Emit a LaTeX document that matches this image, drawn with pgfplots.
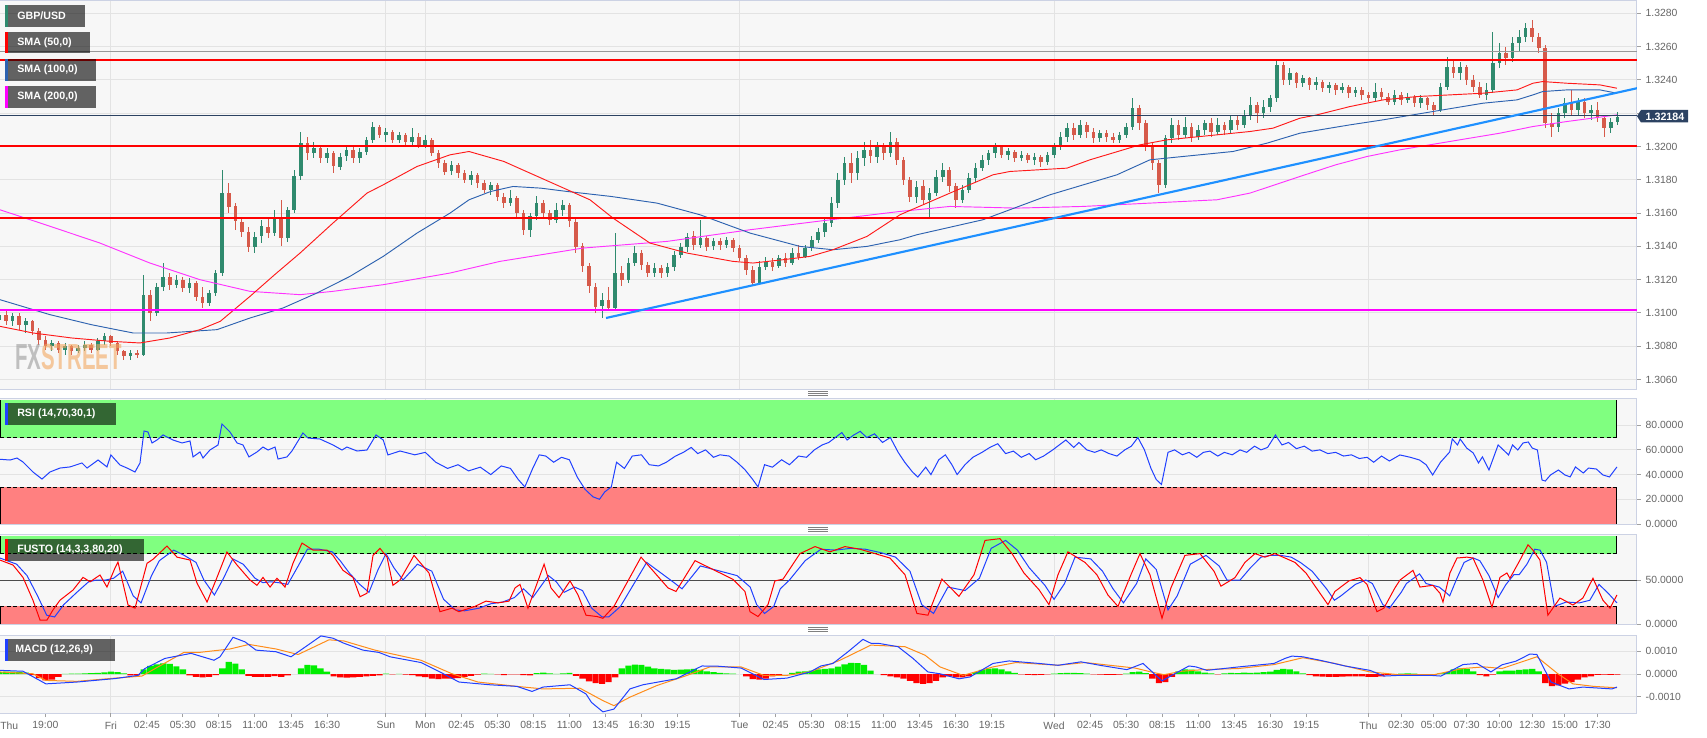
\documentclass[border=0pt]{standalone}
\usepackage{fontspec}
\setmainfont{Liberation Sans}
\usepackage{graphicx}
\usepackage{pgfplots}
\usepackage{pgfplotstable}
\pgfplotsset{compat=1.18}

\definecolor{bgc}{HTML}{F7F7F7}
\definecolor{framec}{HTML}{CCD2E4}
\definecolor{gridc}{HTML}{E3E3E3}
\definecolor{tickc}{HTML}{A0A0A0}
\definecolor{labc}{HTML}{666666}
\definecolor{cup}{HTML}{2F8A6E}
\definecolor{cdn}{HTML}{D65A4A}
\definecolor{smared}{HTML}{FF1A1A}
\definecolor{smablue}{HTML}{2D62B0}
\definecolor{smamag}{HTML}{FF33FF}
\definecolor{lvlred}{HTML}{FF0000}
\definecolor{lvlmag}{HTML}{FF00FF}
\definecolor{trend}{HTML}{1E90FF}
\definecolor{navy}{HTML}{2C4262}
\definecolor{zgreen}{HTML}{80FF80}
\definecolor{zred}{HTML}{FF8080}
\definecolor{indblue}{HTML}{2040FF}
\definecolor{indred}{HTML}{FF0000}
\definecolor{sigor}{HTML}{FF8C1A}
\definecolor{hgreen}{HTML}{00EE00}
\definecolor{hred}{HTML}{FF0000}
\definecolor{wmgray}{HTML}{9A9A9A}
\definecolor{wmorange}{HTML}{F2A860}

\newcommand{\tfont}{\fontsize{7.8}{9}\selectfont}
\newcommand{\bfont}{\fontsize{8}{9.6}\selectfont\bfseries}

% 30 minute candles: time (h, weekend removed), open, high, low, close
\pgfplotstableread{
t o h l c
15.5 1.3096 1.3101 1.3094 1.3099
16.0 1.3099 1.3102 1.3093 1.3095
16.5 1.3095 1.3100 1.3092 1.3098
17.0 1.3098 1.3100 1.3090 1.3093
17.5 1.3093 1.3097 1.3088 1.3095
18.0 1.3095 1.3096 1.3087 1.3089
18.5 1.3089 1.3091 1.3081 1.3084
19.0 1.3084 1.3086 1.3078 1.3080
19.5 1.3080 1.3084 1.3077 1.3082
20.0 1.3082 1.3083 1.3076 1.3078
20.5 1.3078 1.3082 1.3075 1.3080
21.0 1.3080 1.3081 1.3075 1.3077
21.5 1.3077 1.3081 1.3076 1.3079
22.0 1.3079 1.3083 1.3077 1.3081
22.5 1.3081 1.3082 1.3076 1.3078
23.0 1.3078 1.3085 1.3077 1.3083
23.5 1.3083 1.3088 1.3081 1.3086
24.0 1.3086 1.3087 1.3080 1.3082
24.5 1.3082 1.3083 1.3075 1.3077
25.0 1.3077 1.3078 1.3072 1.3074
25.5 1.3074 1.3078 1.3072 1.3076
26.0 1.3076 1.3078 1.3073 1.3075
26.5 1.3075 1.3123 1.3074 1.3111
27.0 1.3111 1.3114 1.3095 1.3100
27.5 1.3100 1.3118 1.3098 1.3116
28.0 1.3116 1.3130 1.3113 1.3122
28.5 1.3122 1.3124 1.3114 1.3117
29.0 1.3117 1.3123 1.3115 1.3120
29.5 1.3120 1.3122 1.3113 1.3115
30.0 1.3115 1.3121 1.3112 1.3118
30.5 1.3118 1.3119 1.3107 1.3110
31.0 1.3110 1.3116 1.3103 1.3106
31.5 1.3106 1.3114 1.3104 1.3112
32.0 1.3112 1.3126 1.3110 1.3124
32.5 1.3124 1.3186 1.3122 1.3172
33.0 1.3172 1.3178 1.3160 1.3164
33.5 1.3164 1.3166 1.3150 1.3155
34.0 1.3155 1.3158 1.3146 1.3149
34.5 1.3149 1.3152 1.3137 1.3140
35.0 1.3140 1.3149 1.3136 1.3146
35.5 1.3146 1.3156 1.3142 1.3152
36.0 1.3152 1.3158 1.3145 1.3148
36.5 1.3148 1.3162 1.3146 1.3158
37.0 1.3158 1.3168 1.3140 1.3145
37.5 1.3145 1.3164 1.3143 1.3162
38.0 1.3162 1.3186 1.3160 1.3182
38.5 1.3182 1.3209 1.3180 1.3202
39.0 1.3202 1.3206 1.3192 1.3196
39.5 1.3196 1.3203 1.3193 1.3199
40.0 1.3199 1.3201 1.3190 1.3193
40.5 1.3193 1.3199 1.3190 1.3196
41.0 1.3196 1.3197 1.3184 1.3188
41.5 1.3188 1.3196 1.3186 1.3194
42.0 1.3194 1.3201 1.3191 1.3198
42.5 1.3198 1.3200 1.3190 1.3193
43.0 1.3193 1.3199 1.3190 1.3197
43.5 1.3197 1.3206 1.3195 1.3204
44.0 1.3204 1.3215 1.3202 1.3212
44.5 1.3212 1.3213 1.3205 1.3207
45.0 1.3207 1.3211 1.3203 1.3209
45.5 1.3209 1.3210 1.3202 1.3204
46.0 1.3204 1.3209 1.3202 1.3207
46.5 1.3207 1.3208 1.3201 1.3203
47.0 1.3203 1.3211 1.3201 1.3206
47.5 1.3206 1.3208 1.3199 1.3201
48.0 1.3201 1.3207 1.3199 1.3204
48.5 1.3204 1.3205 1.3194 1.3196
49.0 1.3196 1.3198 1.3187 1.3190
49.5 1.3190 1.3192 1.3183 1.3185
50.0 1.3185 1.3191 1.3183 1.3189
50.5 1.3189 1.3190 1.3181 1.3184
51.0 1.3184 1.3186 1.3178 1.3180
51.5 1.3180 1.3185 1.3177 1.3183
52.0 1.3183 1.3184 1.3175 1.3178
52.5 1.3178 1.3180 1.3172 1.3174
53.0 1.3174 1.3179 1.3171 1.3177
53.5 1.3177 1.3178 1.3167 1.3170
54.0 1.3170 1.3172 1.3163 1.3166
54.5 1.3166 1.3174 1.3164 1.3169
55.0 1.3169 1.3170 1.3157 1.3160
55.5 1.3160 1.3162 1.3147 1.3150
56.0 1.3150 1.3160 1.3146 1.3158
56.5 1.3158 1.3170 1.3156 1.3166
57.0 1.3166 1.3168 1.3157 1.3160
57.5 1.3160 1.3162 1.3153 1.3156
58.0 1.3156 1.3166 1.3154 1.3162
58.5 1.3162 1.3168 1.3158 1.3165
59.0 1.3165 1.3166 1.3152 1.3155
59.5 1.3155 1.3157 1.3136 1.3140
60.0 1.3140 1.3142 1.3125 1.3128
60.5 1.3128 1.3130 1.3112 1.3116
61.0 1.3116 1.3118 1.3100 1.3104
61.5 1.3104 1.3112 1.3097 1.3108
62.0 1.3108 1.3116 1.3101 1.3103
62.5 1.3103 1.3148 1.3102 1.3124
63.0 1.3124 1.3128 1.3116 1.3120
63.5 1.3120 1.3133 1.3118 1.3130
64.0 1.3130 1.3140 1.3128 1.3136
64.5 1.3136 1.3138 1.3126 1.3129
65.0 1.3129 1.3131 1.3122 1.3124
65.5 1.3124 1.3130 1.3122 1.3127
66.0 1.3127 1.3129 1.3121 1.3124
66.5 1.3124 1.3130 1.3122 1.3128
67.0 1.3128 1.3137 1.3125 1.3135
67.5 1.3135 1.3142 1.3133 1.3140
68.0 1.3140 1.3148 1.3137 1.3146
68.5 1.3146 1.3149 1.3138 1.3141
69.0 1.3141 1.3156 1.3139 1.3145
69.5 1.3145 1.3146 1.3137 1.3140
70.0 1.3140 1.3145 1.3138 1.3143
70.5 1.3143 1.3145 1.3138 1.3141
71.0 1.3141 1.3146 1.3139 1.3144
71.5 1.3144 1.3145 1.3137 1.3139
72.0 1.3139 1.3141 1.3131 1.3133
72.5 1.3133 1.3135 1.3123 1.3126
73.0 1.3126 1.3128 1.3116 1.3118
73.5 1.3118 1.3131 1.3117 1.3128
74.0 1.3128 1.3134 1.3126 1.3131
74.5 1.3131 1.3133 1.3125 1.3128
75.0 1.3128 1.3135 1.3127 1.3133
75.5 1.3133 1.3136 1.3128 1.3130
76.0 1.3130 1.3139 1.3129 1.3136
76.5 1.3136 1.3141 1.3132 1.3134
77.0 1.3134 1.3141 1.3133 1.3139
77.5 1.3139 1.3146 1.3137 1.3144
78.0 1.3144 1.3151 1.3142 1.3149
78.5 1.3149 1.3157 1.3146 1.3154
79.0 1.3154 1.3170 1.3152 1.3166
79.5 1.3166 1.3184 1.3163 1.3180
80.0 1.3180 1.3194 1.3177 1.3190
80.5 1.3190 1.3196 1.3178 1.3184
81.0 1.3184 1.3197 1.3180 1.3193
81.5 1.3193 1.3203 1.3188 1.3198
82.0 1.3198 1.3204 1.3190 1.3194
82.5 1.3194 1.3203 1.3190 1.3200
83.0 1.3200 1.3202 1.3192 1.3196
83.5 1.3196 1.3209 1.3194 1.3203
84.0 1.3203 1.3205 1.3189 1.3192
84.5 1.3192 1.3194 1.3177 1.3180
85.0 1.3180 1.3182 1.3167 1.3170
85.5 1.3170 1.3179 1.3166 1.3176
86.0 1.3176 1.3180 1.3165 1.3168
86.5 1.3168 1.3175 1.3158 1.3172
87.0 1.3172 1.3186 1.3170 1.3182
87.5 1.3182 1.3190 1.3179 1.3186
88.0 1.3186 1.3188 1.3173 1.3176
88.5 1.3176 1.3178 1.3163 1.3168
89.0 1.3168 1.3177 1.3166 1.3174
89.5 1.3174 1.3184 1.3172 1.3181
90.0 1.3181 1.3190 1.3179 1.3187
90.5 1.3187 1.3195 1.3185 1.3192
91.0 1.3192 1.3198 1.3189 1.3196
91.5 1.3196 1.3202 1.3193 1.3200
92.0 1.3200 1.3201 1.3193 1.3195
92.5 1.3195 1.3199 1.3192 1.3197
93.0 1.3197 1.3198 1.3191 1.3193
93.5 1.3193 1.3197 1.3191 1.3195
94.0 1.3195 1.3196 1.3190 1.3192
94.5 1.3192 1.3196 1.3189 1.3194
95.0 1.3194 1.3195 1.3188 1.3191
95.5 1.3191 1.3197 1.3189 1.3195
96.0 1.3195 1.3202 1.3193 1.3200
96.5 1.3200 1.3209 1.3198 1.3206
97.0 1.3206 1.3214 1.3203 1.3211
97.5 1.3211 1.3214 1.3204 1.3207
98.0 1.3207 1.3216 1.3205 1.3213
98.5 1.3213 1.3215 1.3205 1.3209
99.0 1.3209 1.3211 1.3202 1.3205
99.5 1.3205 1.3210 1.3203 1.3208
100.0 1.3208 1.3210 1.3203 1.3206
100.5 1.3206 1.3208 1.3202 1.3204
101.0 1.3204 1.3209 1.3202 1.3207
101.5 1.3207 1.3214 1.3205 1.3212
102.0 1.3212 1.3229 1.3210 1.3223
102.5 1.3223 1.3225 1.3210 1.3214
103.0 1.3214 1.3216 1.3197 1.3200
103.5 1.3200 1.3202 1.3186 1.3190
104.0 1.3190 1.3192 1.3172 1.3177
104.5 1.3177 1.3207 1.3175 1.3205
105.0 1.3205 1.3217 1.3202 1.3213
105.5 1.3213 1.3216 1.3204 1.3207
106.0 1.3207 1.3218 1.3205 1.3212
106.5 1.3212 1.3214 1.3203 1.3206
107.0 1.3206 1.3213 1.3204 1.3210
107.5 1.3210 1.3216 1.3207 1.3214
108.0 1.3214 1.3217 1.3206 1.3209
108.5 1.3209 1.3217 1.3207 1.3213
109.0 1.3213 1.3215 1.3207 1.3210
109.5 1.3210 1.3219 1.3208 1.3216
110.0 1.3216 1.3219 1.3210 1.3213
110.5 1.3213 1.3222 1.3211 1.3219
111.0 1.3219 1.3230 1.3216 1.3225
111.5 1.3225 1.3227 1.3214 1.3220
112.0 1.3220 1.3228 1.3217 1.3224
112.5 1.3224 1.3231 1.3221 1.3229
113.0 1.3229 1.3252 1.3227 1.3249
113.5 1.3249 1.3251 1.3237 1.3240
114.0 1.3240 1.3247 1.3237 1.3244
114.5 1.3244 1.3245 1.3235 1.3238
115.0 1.3238 1.3243 1.3236 1.3241
115.5 1.3241 1.3242 1.3234 1.3237
116.0 1.3237 1.3242 1.3234 1.3239
116.5 1.3239 1.3240 1.3233 1.3235
117.0 1.3235 1.3239 1.3232 1.3237
117.5 1.3237 1.3238 1.3231 1.3234
118.0 1.3234 1.3238 1.3232 1.3236
118.5 1.3236 1.3237 1.3229 1.3232
119.0 1.3232 1.3236 1.3230 1.3234
119.5 1.3234 1.3236 1.3228 1.3231
120.0 1.3231 1.3233 1.3227 1.3229
120.5 1.3229 1.3238 1.3227 1.3233
121.0 1.3233 1.3235 1.3228 1.3230
121.5 1.3230 1.3232 1.3225 1.3227
122.0 1.3227 1.3234 1.3225 1.3231
122.5 1.3231 1.3233 1.3225 1.3228
123.0 1.3228 1.3232 1.3226 1.3230
123.5 1.3230 1.3231 1.3224 1.3226
124.0 1.3226 1.3231 1.3223 1.3229
124.5 1.3229 1.3230 1.3222 1.3225
125.0 1.3225 1.3227 1.3219 1.3222
125.5 1.3222 1.3238 1.3221 1.3236
126.0 1.3236 1.3254 1.3234 1.3248
126.5 1.3248 1.3252 1.3241 1.3244
127.0 1.3244 1.3251 1.3240 1.3248
127.5 1.3248 1.3249 1.3237 1.3240
128.0 1.3240 1.3243 1.3233 1.3236
128.5 1.3236 1.3239 1.3229 1.3231
129.0 1.3231 1.3238 1.3228 1.3234
129.5 1.3234 1.3269 1.3232 1.3250
130.0 1.3250 1.3262 1.3247 1.3256
130.5 1.3256 1.3260 1.3249 1.3253
131.0 1.3253 1.3266 1.3251 1.3262
131.5 1.3262 1.3270 1.3257 1.3266
132.0 1.3266 1.3274 1.3263 1.3271
132.5 1.3271 1.3276 1.3263 1.3266
133.0 1.3266 1.3268 1.3256 1.3259
133.5 1.3259 1.3261 1.3211 1.3214
134.0 1.3214 1.3220 1.3206 1.3212
134.5 1.3212 1.3223 1.3209 1.3220
135.0 1.3220 1.3229 1.3217 1.3226
135.5 1.3226 1.3234 1.3219 1.3222
136.0 1.3222 1.3229 1.3219 1.3227
136.5 1.3227 1.3229 1.3217 1.3220
137.0 1.3220 1.3225 1.3216 1.3222
137.5 1.3222 1.3227 1.3215 1.3217
138.0 1.3217 1.3219 1.3206 1.3211
138.5 1.3211 1.3217 1.3208 1.3215
139.0 1.3215 1.3221 1.3213 1.3218
}\candles

\pgfplotsset{
  panel/.style={
    scale only axis, width=1227.75pt,
    xmin=15.534, xmax=140.5,
    anchor=south west,
    axis background/.style={fill=bgc},
    axis line style={draw=framec, line width=0.75pt},
    ytick pos=right, yticklabel pos=right,
    xtick pos=left,
    tick align=outside, major tick length=3pt,
    ytick style={draw=tickc, line width=0.75pt},
    xtick style={draw=tickc, line width=0.75pt},
    ticklabel style={font=\tfont, text=labc},
    yticklabel style={/pgf/number format/.cd, fixed, fixed zerofill, precision=4, assume math mode=true},
    scaled y ticks=false,
    grid style={draw=gridc, line width=0.75pt},
    xmajorgrids=true, ymajorgrids=true,
    xtick={24,45,48,72,96,120},
  },
  toppanel/.style={panel, xticklabels={}, xtick style={draw=none}},
}

\begin{document}
\begin{tikzpicture}
\begin{scope}[x=0.75pt, y=-0.75pt]
  \fill[white] (0,0) rectangle (1707,738);
\end{scope}

% ---------------- price panel ----------------
\begin{axis}[toppanel, at={(0pt,-291.75pt)}, height=291pt,
  ymin=1.305435, ymax=1.328739,
  ytick={1.306,1.308,1.310,1.312,1.314,1.316,1.318,1.320,1.324,1.326,1.328},
  extra y ticks={1.322}, extra y tick labels={}, extra y tick style={grid=major}]
  % wicks
  \addplot[draw=none, mark=none, forget plot,
    restrict expr to domain={\thisrow{c}-\thisrow{o}}{-0.000005:1},
    error bars/.cd, y dir=both, y explicit, error mark=none,
    error bar style={draw=cup, line width=0.75pt}]
    table[x=t, y expr={(\thisrow{h}+\thisrow{l})/2}, y error expr={(\thisrow{h}-\thisrow{l})/2}] {\candles};
  \addplot[draw=none, mark=none, forget plot,
    restrict expr to domain={\thisrow{c}-\thisrow{o}}{-1:-0.000005},
    error bars/.cd, y dir=both, y explicit, error mark=none,
    error bar style={draw=cdn, line width=0.75pt}]
    table[x=t, y expr={(\thisrow{h}+\thisrow{l})/2}, y error expr={(\thisrow{h}-\thisrow{l})/2}] {\candles};
  % bodies
  \addplot[draw=none, mark=none, forget plot,
    restrict expr to domain={\thisrow{c}-\thisrow{o}}{-0.000005:1},
    error bars/.cd, y dir=both, y explicit, error mark=none,
    error bar style={draw=cup, line width=2.7pt}]
    table[x=t, y expr={(\thisrow{o}+\thisrow{c})/2}, y error expr={max(abs(\thisrow{c}-\thisrow{o})/2,0.000015)}] {\candles};
  \addplot[draw=none, mark=none, forget plot,
    restrict expr to domain={\thisrow{c}-\thisrow{o}}{-1:-0.000005},
    error bars/.cd, y dir=both, y explicit, error mark=none,
    error bar style={draw=cdn, line width=2.7pt}]
    table[x=t, y expr={(\thisrow{o}+\thisrow{c})/2}, y error expr={max(abs(\thisrow{c}-\thisrow{o})/2,0.000015)}] {\candles};

  % SMA 200
  \addplot[smamag, line width=0.7pt] coordinates {
    (15.53,1.3162) (19,1.3153) (23.17,1.3142) (26.98,1.3130) (30.8,1.3120) (34.62,1.3113)
    (38.44,1.3111) (40.95,1.3113) (44.79,1.3117) (49.89,1.3124) (53.7,1.3131) (60.04,1.3139)
    (66.45,1.3143) (72.79,1.3150) (77.9,1.3155) (84.24,1.3161) (88.05,1.3164) (93.17,1.3163)
    (98.21,1.3164) (103.32,1.3166) (108.44,1.3168) (110.95,1.3172) (114.77,1.3182) (117.5,1.3189)
    (119.89,1.3194) (122.41,1.3198) (126.2,1.3203) (130.04,1.3208) (132.56,1.3212) (135.15,1.3215)
    (138.97,1.3219)};
  % SMA 100
  \addplot[smablue, line width=0.7pt] coordinates {
    (15.53,1.3108) (19.35,1.3099) (22.5,1.3093) (25.69,1.3088) (28.28,1.3088) (32.1,1.3090)
    (34.62,1.3097) (37.14,1.3103) (39.73,1.3112) (42.25,1.3122) (44.79,1.3134) (47.37,1.3148)
    (49.89,1.3160) (51.34,1.3168) (53,1.3173) (54.7,1.3176) (56.8,1.3175) (58.82,1.3173)
    (62.18,1.3170) (65.69,1.3166) (68.97,1.3159) (72.79,1.3148) (76.6,1.3140) (79.12,1.3138)
    (81.72,1.3140) (84.24,1.3144) (85.53,1.3147) (90.57,1.3156) (95.69,1.3171) (100.8,1.3183)
    (103.32,1.3192) (105.84,1.3194) (109.66,1.3197) (112.25,1.3202) (114.77,1.3208) (118.59,1.3213)
    (121.11,1.3216) (124.92,1.3221) (128.74,1.3226) (131.34,1.3228) (132.56,1.3231) (133.3,1.3233)
    (135.15,1.3234) (137.67,1.3234) (138.97,1.3232)};
  % SMA 50
  \addplot[smared, line width=0.7pt] coordinates {
    (15.53,1.3092) (18.05,1.3088) (21,1.3085) (23.93,1.3083) (26.22,1.3082) (28.5,1.3085)
    (30.8,1.3090) (32.35,1.3095) (34.62,1.3110) (36.5,1.3123) (38.44,1.3136) (40.95,1.3154)
    (43.55,1.3172) (44.79,1.3177) (47.37,1.3188) (49.89,1.3195) (51.34,1.3197) (54,1.3191)
    (57.14,1.3180) (60.57,1.3168) (62.33,1.3157) (65.15,1.3142) (67.98,1.3136) (71.49,1.3131)
    (73.02,1.3130) (75.31,1.3132) (77.37,1.3134) (79.12,1.3138) (80.42,1.3142) (81.72,1.3146)
    (84.24,1.3159) (88.05,1.3172) (91.34,1.3183) (92.63,1.3185) (96.98,1.3187) (98.74,1.3192)
    (102.56,1.3201) (104.62,1.3204) (108.44,1.3207) (110.95,1.3209) (112.71,1.3211) (114.77,1.3217)
    (116.07,1.3219) (118.59,1.3224) (121.11,1.3228) (123.71,1.3230) (126.22,1.3231) (128.74,1.3232)
    (131.34,1.3234) (132.56,1.3238) (133.3,1.3239) (135.15,1.3238) (137.67,1.3237) (138.97,1.3235)};

  % levels
  \addplot[black!40, line width=0.75pt] coordinates {(15.534,1.3257) (140.5,1.3257)};
  \addplot[navy, line width=0.75pt] coordinates {(15.534,1.32184) (140.5,1.32184)};
  \addplot[lvlred, line width=1.5pt] coordinates {(15.534,1.3252) (140.5,1.3252)};
  \addplot[lvlred, line width=1.5pt] coordinates {(15.534,1.32005) (140.5,1.32005)};
  \addplot[lvlred, line width=1.5pt] coordinates {(15.534,1.3157) (140.5,1.3157)};
  \addplot[lvlmag, line width=1.5pt] coordinates {(15.534,1.3102) (140.5,1.3102)};
  \addplot[trend, line width=1.6pt] coordinates {(61.8,1.3097) (140.5,1.3235)};
\end{axis}

% ---------------- RSI ----------------
\begin{axis}[toppanel, at={(0pt,-393pt)}, height=94.5pt,
  ymin=0, ymax=102, ytick={0,20,40,60,80}]
  \addplot[fill=zgreen, draw=none] coordinates {(15.534,70) (138.97,70) (138.97,100) (15.534,100)};
  \addplot[fill=zred, draw=none] coordinates {(15.534,0) (138.97,0) (138.97,30) (15.534,30)};
  \addplot[black, line width=0.5pt, densely dashed] coordinates {(15.534,70) (138.97,70)};
  \addplot[black, line width=0.5pt, densely dashed] coordinates {(15.534,30) (138.97,30)};
  \addplot[black, line width=0.75pt] coordinates {(138.97,70) (138.97,100)};
  \addplot[black, line width=0.75pt] coordinates {(138.97,0) (138.97,30)};
  \addplot[black, line width=0.75pt] coordinates {(15.6,70) (15.6,100)};
  \addplot[black, line width=0.75pt] coordinates {(15.6,0) (15.6,30)};
  \addplot[indblue, line width=0.75pt] coordinates {
    (15.53,52.4) (16.3,51.8) (16.83,53.4) (17.29,50.2) (18.05,42.1) (18.74,36.4) (19.35,42.1)
    (20.11,45.3) (20.88,46.2) (21.79,49.4) (22.18,45.3) (23.02,51.8) (23.7,46.2) (24.0,55.9)
    (24.69,47.8) (25.23,45.3) (25.84,42.1) (26.22,49.4) (26.53,75.3) (26.83,74.5) (27.14,65.6)
    (27.52,68) (27.98,72.1) (28.74,68) (29.43,65.6) (30.04,67.2) (30.27,54.3) (30.8,58.3)
    (31.03,53.4) (31.56,59.9) (32.18,64) (32.48,81) (33.09,74.5) (33.63,65.6) (34.08,64)
    (34.54,54.3) (35.15,58.3) (35.61,62.3) (36.0,59.9) (36.53,62.3) (36.76,52.6) (37.44,54.3)
    (37.82,59.1) (38.66,73.7) (39.05,69.6) (39.96,68.8) (40.95,64) (41.64,59.9) (42.02,62.3)
    (42.79,59.1) (43.55,59.9) (44.24,72.1) (44.79,68) (45.15,55.9) (46.07,59.1) (47.2,56)
    (48.0,58) (48.8,50) (49.7,45) (50.5,48) (51.3,43) (52.2,46) (53.0,40) (53.8,47) (54.5,45)
    (55.1,36) (55.6,30) (56.2,45) (56.7,56) (57.2,55) (57.8,50) (58.4,54) (59.0,52) (59.6,38)
    (60.2,28) (60.8,22) (61.3,20) (61.7,26) (62.2,30) (62.6,50) (63.2,45) (63.8,55) (64.5,56)
    (65.1,48) (65.8,47) (66.4,50) (67.1,55) (67.7,58) (68.3,62) (68.8,57) (69.4,60) (70.0,54)
    (70.5,56) (71.2,55) (71.8,50) (72.4,44) (73.0,36) (73.4,30) (73.9,48) (74.5,46) (75.2,52)
    (75.8,48) (76.5,55) (77.1,54) (77.7,60) (78.3,64) (78.8,66) (79.3,70) (79.8,74) (80.2,68)
    (80.7,72) (81.2,75) (81.7,70) (82.3,73) (82.9,66) (83.5,70) (84.1,58) (84.6,50) (85.2,42)
    (85.6,38) (86.2,46) (86.6,40) (87.2,52) (87.7,56) (88.2,48) (88.6,40) (89.2,48) (89.8,54)
    (90.5,58) (91.1,62) (91.7,65) (92.3,57) (92.9,59) (93.5,54) (94.1,57) (94.6,52) (95.2,55)
    (95.9,60) (96.4,64) (96.9,68) (97.5,62) (97.9,66) (98.5,60) (99.1,58) (99.6,60) (100.2,57)
    (100.8,55) (101.4,60) (101.9,63) (102.4,70) (102.9,60) (103.4,45) (103.8,36) (104.2,32)
    (104.7,58) (105.2,60) (105.8,56) (106.3,58) (106.9,54) (107.4,58) (107.9,59) (108.5,55)
    (109.0,58) (109.6,56) (110.2,60) (110.7,58) (111.3,63) (111.8,60) (112.3,62) (112.9,72)
    (113.4,64) (113.9,66) (114.5,61) (115.1,63) (115.7,59) (116.3,60) (116.9,57) (117.5,58)
    (118.1,55) (118.7,56) (119.3,53) (119.9,54) (120.4,50) (121.0,55) (121.6,51) (122.4,55.9)
    (123.2,54) (123.9,51.8) (124.4,48) (124.9,39.7) (125.5,50) (126.2,58.3) (126.4,68.8)
    (126.8,64) (127.0,68.8) (127.5,61.5) (128.0,57.5) (128.4,49.4) (128.7,54.3) (129.2,43.7)
    (129.9,64) (130.7,55.9) (131.0,64) (131.4,59.9) (131.8,65.6) (132.2,66.4) (132.5,61.5)
    (132.9,59.9) (133.25,35.6) (133.5,34.8) (133.9,39.7) (134.5,43.7) (135.0,39.7) (135.4,38.1)
    (135.8,46.2) (136.4,41.3) (136.8,45.3) (137.4,44.5) (137.9,39.7) (138.4,38.1) (138.97,46.2)};
\end{axis}

% ---------------- FUSTO ----------------
\begin{axis}[toppanel, at={(0pt,-468pt)}, height=67.5pt,
  ymin=0, ymax=102.3, ytick={0,50}]
  \addplot[fill=zgreen, draw=none] coordinates {(15.534,80) (138.97,80) (138.97,100) (15.534,100)};
  \addplot[fill=zred, draw=none] coordinates {(15.534,0) (138.97,0) (138.97,20) (15.534,20)};
  \addplot[black, line width=0.5pt, densely dashed] coordinates {(15.534,80) (138.97,80)};
  \addplot[black, line width=0.5pt, densely dashed] coordinates {(15.534,20) (138.97,20)};
  \addplot[black, line width=0.75pt] coordinates {(138.97,80) (138.97,100)};
  \addplot[black, line width=0.75pt] coordinates {(138.97,0) (138.97,20)};
  \addplot[black, line width=0.75pt] coordinates {(15.6,80) (15.6,100)};
  \addplot[black, line width=0.75pt] coordinates {(15.6,0) (15.6,20)};
  \addplot[black!70, line width=0.75pt] coordinates {(15.534,50) (140.5,50)};
  % %D
  \addplot[indblue, line width=0.75pt] coordinates {
    (15.53,75) (16.8,68) (17.6,55) (18.4,32) (19.1,10) (19.7,8) (20.4,22) (21.4,36) (22.3,48)
    (22.9,50) (23.6,50) (24.2,52) (24.9,60) (25.7,32) (26.3,24) (27.1,55) (27.7,72) (28.8,84)
    (29.6,78) (30.5,70) (31.1,50) (31.9,33) (32.6,52) (33.3,74) (34.1,68) (35.0,52) (35.6,47)
    (36.2,48) (36.8,47) (37.5,45) (38.3,66) (39.0,85) (39.9,85) (40.9,82) (41.5,72) (42.2,58)
    (43.0,45) (43.7,36) (44.4,62) (45.0,80) (45.6,64) (46.3,50) (47.4,68) (48.5,60) (49.4,28)
    (50.3,16) (51.0,15) (52.1,18) (53.0,23) (53.9,25) (54.8,30) (55.5,40) (56.2,30) (57.4,55)
    (58.0,48) (58.6,36) (59.4,42) (60.0,38) (60.7,18) (61.5,8) (62.0,8) (62.9,20) (64.9,70)
    (66.9,48) (67.6,40) (69.0,66) (71.8,55) (72.8,42) (73.3,22) (73.9,12) (74.6,20) (75.1,40)
    (75.8,50) (77.0,72) (78.2,85) (79.3,84) (80.5,86) (81.6,85) (82.8,81) (83.9,76) (85.0,60)
    (85.9,22) (86.8,12) (87.9,42) (89.2,38) (90.3,52) (91.2,86) (92.3,95) (93.2,84) (94.1,64)
    (95.3,44) (96.0,28) (96.8,46) (97.6,76) (98.8,74) (99.7,60) (100.5,40) (101.3,24) (102.3,46)
    (103.0,74) (103.8,62) (104.7,16) (105.4,32) (106.4,68) (107.6,78) (108.6,66) (109.2,50)
    (110.2,50) (111.0,64) (111.8,76) (112.5,78) (113.3,78) (114.1,76) (114.8,70) (115.7,60)
    (116.8,40) (117.4,27) (117.9,32) (119.0,45) (119.8,50) (120.3,46) (121.1,22) (121.6,18)
    (122.5,36) (122.9,46) (123.9,57) (124.4,46) (125.4,42) (125.9,36) (126.2,32) (126.7,50)
    (127.3,70) (128.0,75) (128.5,72) (129.2,55) (129.9,30) (130.5,45) (131.1,56) (131.5,56)
    (132.1,68) (132.7,85) (133.1,84) (133.6,70) (134.2,20) (135.1,25) (136.1,24) (136.9,27)
    (137.6,45) (138.3,35) (138.97,24)};
  % %K
  \addplot[indred, line width=0.75pt] coordinates {
    (15.53,72.7) (16.53,67) (17.29,53) (18.05,27) (18.59,4.5) (19.12,4.5) (19.58,16) (20.11,27)
    (21.11,38.6) (21.87,53) (22.41,48) (23.17,55.7) (23.7,42) (24.31,63.6) (24.54,70.5)
    (25.31,21.6) (25.84,18) (26.76,69) (27.21,73.5) (28.28,88.6) (29.05,76) (30.04,72.7)
    (30.57,46.6) (31.34,25) (32.1,53) (32.86,81.8) (33.63,67) (34.62,50) (35.15,44) (35.61,53)
    (36.15,42) (36.68,52) (37.29,42) (37.9,69) (38.59,92) (39.43,84) (40.5,84) (40.95,78)
    (41.72,61) (42.48,53) (43.02,31) (43.55,35) (44.01,78) (44.54,86) (45.08,76) (45.53,44)
    (46.07,50) (47.14,78) (48.28,58) (49.12,14) (50.04,18) (50.57,14) (51.79,20) (52.63,26)
    (53.55,24) (54.39,26) (54.85,41) (55.23,45) (55.84,18) (57.07,68) (57.6,41) (58.21,30)
    (59.05,49) (59.66,33) (60.27,10) (61.11,8.5) (61.56,6.5) (62.4,20) (64.47,76) (66.53,41)
    (67.14,37) (68.59,72) (71.49,50.8) (72.4,37) (72.79,14) (73.4,8.5) (74.16,22) (74.69,49)
    (75.31,51) (76.6,80) (77.75,88) (78.89,82) (80.04,88) (81.18,85) (82.33,80) (83.47,75)
    (84.62,56) (85.53,12) (86.37,10) (87.44,51) (88.74,31.5) (89.89,56) (90.73,95) (91.87,97)
    (92.79,80) (93.7,58) (94.85,39) (95.61,22) (96.3,56) (97.06,82) (98.36,70) (99.27,56)
    (100.11,33) (100.88,20) (101.87,56) (102.56,80) (103.32,56) (104.24,6.5) (104.92,41)
    (105.99,78) (107.14,80) (108.21,60) (108.74,43) (109.81,52.7) (110.57,70) (111.34,80)
    (112.1,76) (112.86,80) (113.63,75) (114.39,70) (115.23,58) (116.3,35) (116.91,22) (117.44,37)
    (118.51,49) (119.35,52.7) (119.89,45) (120.65,14) (121.18,18) (122.02,41) (122.41,50)
    (123.4,61) (123.93,42) (124.92,44) (125.46,35) (125.69,25) (126.22,58) (126.76,75)
    (127.52,76) (127.98,75) (128.74,50) (129.43,19) (130.04,53) (130.57,58) (130.8,52)
    (131.57,72.7) (132.18,90) (132.56,84) (133.09,72.7) (133.7,10) (134.62,29.5) (135.61,21.6)
    (136.37,29.5) (137.14,52) (137.9,27) (138.44,18) (138.97,33)};
\end{axis}

% ---------------- MACD ----------------
\begin{axis}[panel, at={(0pt,-534.75pt)}, height=58.5pt,
  ymin=-0.0017, ymax=0.0017, ytick={-0.001,0,0.001},
  xmajorgrids=false,
  xtick={19,26.75,29.5,32.25,35,37.75,40.5,50.75,53.5,56.25,59,61.75,64.5,67.25,
         74.75,77.5,80.25,83,85.75,88.5,91.25,98.75,101.5,104.25,107,109.75,112.5,115.25,
         122.5,125,127.5,130,132.5,135,137.5},
  xticklabels={19:00,02:45,05:30,08:15,11:00,13:45,16:30,02:45,05:30,08:15,11:00,13:45,16:30,19:15,
         02:45,05:30,08:15,11:00,13:45,16:30,19:15,02:45,05:30,08:15,11:00,13:45,16:30,19:15,
         02:30,05:00,07:30,10:00,12:30,15:00,17:30},
  extra x ticks={24,45,48,72,96,120},
  extra x tick labels={Fri,Sun,Mon,Tue,Wed,Thu},
  extra x tick style={grid=major}]
  \addplot[ybar, bar width=4.6pt, bar shift=0pt, fill=hgreen, draw=none] coordinates {
    (15.5,0.00008) (16,0.0001) (16.5,0.0001) (17,0.00009) (17.5,0.00006)
    (20.5,0.00001) (21,0.00002) (21.5,0.00002) (22,0.00003) (22.5,0.00004) (23,0.00005)
    (23.5,0.00007) (24,0.0001) (24.5,0.00008) (25,0.00003)
    (26.5,0.0002) (27,0.00035) (27.5,0.00042) (28,0.00046) (28.5,0.00044) (29,0.00033) (29.5,0.0002)
    (32.5,0.00025) (33,0.00053) (33.5,0.00045) (34,0.0002)
    (38.5,0.00025) (39,0.0004) (39.5,0.00038) (40,0.00025) (40.5,0.0001)
    (45,0.00002) (46,0.00001)
    (52.5,0.00002) (53,0.00001) (56.5,0.00004) (57,0.00006) (57.5,0.00003) (58,0.00001)
    (58.5,0.00003) (59,0.00005)
    (63,0.00025) (63.5,0.00036) (64,0.00041) (64.5,0.0004) (65,0.00032) (65.5,0.00025)
    (66,0.00022) (66.5,0.0002) (67,0.00018) (67.5,0.00019) (68,0.0002) (68.5,0.00022)
    (69,0.00018) (69.5,0.00012) (70,0.00008) (70.5,0.00005) (71,0.00003) (71.5,0.00002)
    (76,0.00005) (76.5,0.0001) (77,0.00012) (77.5,0.00015) (78,0.0002) (78.5,0.00022)
    (79,0.00025) (79.5,0.00032) (80,0.00042) (80.5,0.00049) (81,0.00047) (81.5,0.0004) (82,0.00015)
    (90,0.00008) (90.5,0.00018) (91,0.00023) (91.5,0.00024) (92,0.0002) (92.5,0.00012) (93,0.00005)
    (96,0.00002) (96.5,0.00004) (97,0.00005) (97.5,0.00005) (98,0.00004) (98.5,0.00002)
    (101.5,0.00002) (102,0.00008) (102.5,0.0001) (103,0.00004)
    (105.5,0.00012) (106,0.0002) (106.5,0.00019) (107,0.00012) (107.5,0.00006)
    (108,0.00003) (109,0.00003) (109.5,0.00005) (110,0.00004) (110.5,0.00006) (111,0.00005)
    (111.5,0.00006) (112,0.00008) (112.5,0.0001)
    (113,0.00018) (113.5,0.00022) (114,0.0002) (114.5,0.00012) (115,0.00003)
    (122.5,0.00002) (123,0.00003) (123.5,0.00002) (125.5,0.00003) (126,0.00008)
    (126.5,0.0002) (127,0.00025) (127.5,0.00022) (128,0.00012)
    (130,0.00012) (130.5,0.00015) (131,0.00015) (131.5,0.00018) (132,0.0002) (132.5,0.00022) (133,0.00012)};
  \addplot[ybar, bar width=4.6pt, bar shift=0pt, fill=hred, draw=none] coordinates {
    (18,-0.00005) (18.5,-0.00018) (19,-0.00028) (19.5,-0.00024) (20,-0.00012)
    (25.5,-0.00006) (26,-0.00006)
    (30,-0.00006) (30.5,-0.00012) (31,-0.00015) (31.5,-0.00012) (32,-0.00005)
    (34.5,-0.00008) (35,-0.00013) (35.5,-0.00013) (36,-0.00012) (36.5,-0.00009) (37,-0.00012) (37.5,-0.00006)
    (41,-0.0001) (41.5,-0.00015) (42,-0.00016) (42.5,-0.00015) (43,-0.00012) (43.5,-0.0001)
    (44,-0.00008) (44.5,-0.00006)
    (45.5,-0.00002) (46.5,-0.00003) (47,-0.00005) (47.5,-0.0001)
    (48,-0.00014) (48.5,-0.0002) (49,-0.00022) (49.5,-0.0002) (50,-0.0002) (50.5,-0.00018)
    (51,-0.00012) (51.5,-0.00008)
    (52,-0.00003) (53.5,-0.00002) (54,-0.00005) (54.5,-0.00002) (55,-0.00002) (55.5,-0.00005) (56,-0.00006)
    (59.5,-0.00008) (60,-0.0002) (60.5,-0.00032) (61,-0.0004) (61.5,-0.00043) (62,-0.00035) (62.5,-0.00015)
    (72.5,-0.0001) (73,-0.00022) (73.5,-0.00025) (74,-0.0002) (74.5,-0.0001) (75,-0.00005)
    (83,-0.00005) (83.5,-0.0001) (84,-0.00015) (84.5,-0.0002) (85,-0.0003) (85.5,-0.0004)
    (86,-0.00043) (86.5,-0.0004) (87,-0.0003) (87.5,-0.00015) (88,-0.0001) (88.5,-0.00015)
    (89,-0.00015) (89.5,-0.0001)
    (93.5,-0.00002) (94,-0.00004) (94.5,-0.00005) (95,-0.00004) (95.5,-0.00002)
    (99,-0.00002) (99.5,-0.00003) (100,-0.00004) (100.5,-0.00004) (101,-0.00003)
    (103.5,-0.0002) (104,-0.0004) (104.5,-0.00035) (105,-0.00012)
    (108.5,-0.00002)
    (115.5,-0.00005) (116,-0.0001) (116.5,-0.00011) (117,-0.00012) (117.5,-0.00012) (118,-0.00011)
    (118.5,-0.0001) (119,-0.0001) (119.5,-0.0001) (120,-0.00012) (120.5,-0.00013) (121,-0.0001)
    (121.5,-0.00004) (122,-0.00002) (124,-0.00002) (124.5,-0.00004) (125,-0.00003)
    (128.5,-0.00005) (129,-0.0001) (129.5,-0.00003)
    (133.5,-0.0004) (134,-0.00053) (134.5,-0.0005) (135,-0.00042) (135.5,-0.00035) (136,-0.00025)
    (136.5,-0.00015) (137,-0.0001)
    (137.5,-0.00004) (138,-0.00003) (138.5,-0.00004) (139,-0.00003)};
  % signal
  \addplot[sigor, line width=0.75pt] coordinates {
    (15.53,0.00009) (18.05,0.00001) (19.04,-0.00028) (21.41,-0.00032) (24.31,-0.00018)
    (26.37,-0.00009) (27.82,0.00038) (29.57,0.00094) (30.72,0.00094) (33.09,0.00109)
    (34.54,0.00129) (36.61,0.00109) (38.29,0.00085) (40.65,0.00149) (41.79,0.00144)
    (44.16,0.00104) (47.67,0.0006) (50.04,0.00001) (52.02,-0.00035) (55.0,-0.00054)
    (56.98,-0.00065) (59.81,-0.00062) (61.56,-0.00116) (62.4,-0.00138) (63.62,-0.00101)
    (65.69,-0.0005) (67.98,-0.00006) (69.73,0.00031) (72.1,0.00031) (73.85,-0.00006)
    (75.6,-0.00006) (77.37,0.00009) (79.66,0.0006) (82.02,0.00126) (84.62,0.00119)
    (86.15,0.00082) (87.29,0.00031) (89.05,-0.00006) (91.34,0.00031) (93.09,0.0005)
    (96.3,0.00038) (98.36,0.0005) (102.18,0.00026) (103.63,0.00006) (104.39,-0.00003)
    (105.76,0.00012) (107.37,0.00019) (110.11,0.00024) (112.79,0.00041) (115.0,0.00071)
    (117.44,0.00046) (120.11,0.00009) (122.33,-0.00003) (125.0,-0.00003) (127.21,0.00024)
    (128.82,0.00031) (130.19,0.00024) (132.86,0.00075) (134.46,0.00001) (135.61,-0.00043)
    (137.21,-0.00054) (138.97,-0.0006)};
  % MACD
  \addplot[indblue, line width=0.75pt] coordinates {
    (15.53,0.00016) (17.29,0.00012) (19.04,-0.00043) (21.41,-0.00035) (24.31,-0.0002)
    (26.07,-0.00006) (26.6,0.00024) (28.13,0.00068) (30.12,0.0009) (31.87,0.0006)
    (32.33,0.00075) (33.32,0.0016) (34.24,0.0014) (35.08,0.00104) (36.61,0.00097)
    (37.75,0.00075) (38.89,0.0012) (40.04,0.00166) (40.95,0.00156) (41.79,0.00134)
    (43.25,0.00104) (44.47,0.00094) (45.31,0.00075) (47.67,0.0005) (49.12,0.00009)
    (50.57,-0.00035) (52.94,-0.00047) (55.0,-0.00054) (56.15,-0.00076) (56.98,-0.00057)
    (59.05,-0.00047) (60.27,-0.00087) (60.69,-0.00124) (61.56,-0.00165) (62.4,-0.00153)
    (63.62,-0.00065) (64.61,-0.00047) (67.14,-0.00021) (69.12,0.00035) (70.34,0.00034)
    (72.1,0.00026) (73.85,-0.00024) (75.6,-0.00018) (77.37,0.00009) (78.2,0.00035)
    (79.12,0.00046) (80.27,0.00097) (81.41,0.00151) (82.02,0.00134) (82.56,0.00134)
    (84.09,0.00119) (85.23,0.00068) (86.37,0.00009) (87.29,0.00001) (88.74,-0.00021)
    (89.58,-0.00013) (91.34,0.00046) (92.56,0.00057) (94.85,0.00046) (96.3,0.00038)
    (98.05,0.00053) (99.5,0.00038) (101.56,0.00019) (102.79,0.00046) (104.24,-0.0003)
    (105.46,0.00009) (106.3,0.00035) (106.83,0.00031) (107.67,0.00016) (110.11,0.00031)
    (112.79,0.00046) (113.63,0.00068) (114.16,0.00078) (115.0,0.00075) (116.3,0.0006)
    (118.21,0.00035) (120.11,0.00016) (121.18,-0.00009) (122.33,-0.00006) (124.77,-0.00006)
    (125.53,-0.00009) (127.21,0.00041) (128.28,0.00046) (129.35,0.00009) (130.19,0.0004)
    (131.26,0.00056) (132.33,0.00087) (132.86,0.00085) (133.93,-0.00035) (135.31,-0.00065)
    (136.37,-0.00057) (137.75,-0.00062) (138.59,-0.00065) (138.97,-0.00057)};
\end{axis}

% ---------------- overlays ----------------
\begin{scope}[x=0.75pt, y=-0.75pt]
  % watermark
  \node[anchor=west, inner sep=0, opacity=0.6] at (15,357)
    {\resizebox{80pt}{19pt}{\bfseries\textcolor{wmgray}{FX}\textcolor{wmorange}{STREET}}};
  % series tags
  \fill[black, fill opacity=0.6] (5,5) rectangle (85,26.7);
  \fill[cup] (5,5) rectangle (7.5,26.7);
  \node[anchor=west, inner sep=0, text=white, font=\bfont] at (17,16) {GBP/USD};
  \fill[black, fill opacity=0.6] (5,32) rectangle (90,53.5);
  \fill[lvlred] (5,32) rectangle (7.5,53.5);
  \node[anchor=west, inner sep=0, text=white, font=\bfont] at (17,42.8) {SMA (50,0)};
  \fill[black, fill opacity=0.6] (5,59) rectangle (96,81);
  \fill[smablue] (5,59) rectangle (7.5,81);
  \node[anchor=west, inner sep=0, text=white, font=\bfont] at (17,70) {SMA (100,0)};
  \fill[black, fill opacity=0.6] (5,86) rectangle (96,108);
  \fill[lvlmag] (5,86) rectangle (7.5,108);
  \node[anchor=west, inner sep=0, text=white, font=\bfont] at (17,97) {SMA (200,0)};
  \fill[black, fill opacity=0.6] (5,403) rectangle (116,425);
  \fill[indblue] (5,403) rectangle (7.5,425);
  \node[anchor=west, inner sep=0, text=white, font=\bfont] at (17,414) {RSI (14,70,30,1)};
  \fill[black, fill opacity=0.6] (5,539) rectangle (144,561);
  \fill[indred] (5,539) rectangle (7.5,561);
  \node[anchor=west, inner sep=0, text=white, font=\bfont] at (17,550) {FUSTO (14,3,3,80,20)};
  \fill[black, fill opacity=0.6] (5,639) rectangle (115,661);
  \fill[indblue] (5,639) rectangle (7.5,661);
  \node[anchor=west, inner sep=0, text=white, font=\bfont] at (15,650) {MACD (12,26,9)};
  % current price tag
  \fill[navy] (1637,116.2) -- (1641,110) -- (1688,110) -- (1688,122.5) -- (1641,122.5) -- cycle;
  \node[inner sep=0, text=white, font=\bfont] at (1665,116.4) {1.32184};
  % panel splitters
  \foreach \yy in {393.5,529,629.5}{
    \draw[black!50, line width=0.45pt] (808,\yy-1.8) -- (828,\yy-1.8);
    \draw[black!50, line width=0.45pt] (808,\yy) -- (828,\yy);
    \draw[black!50, line width=0.45pt] (808,\yy+1.8) -- (828,\yy+1.8);
  }
  % first day label
  \node[anchor=base west, inner sep=0, font=\tfont, text=labc] at (0,729.5) {Thu};
\end{scope}

\pgfresetboundingbox
\begin{scope}[x=0.75pt, y=-0.75pt]
  \path[use as bounding box] (0,0) rectangle (1707,738);
\end{scope}
\end{tikzpicture}
\end{document}
